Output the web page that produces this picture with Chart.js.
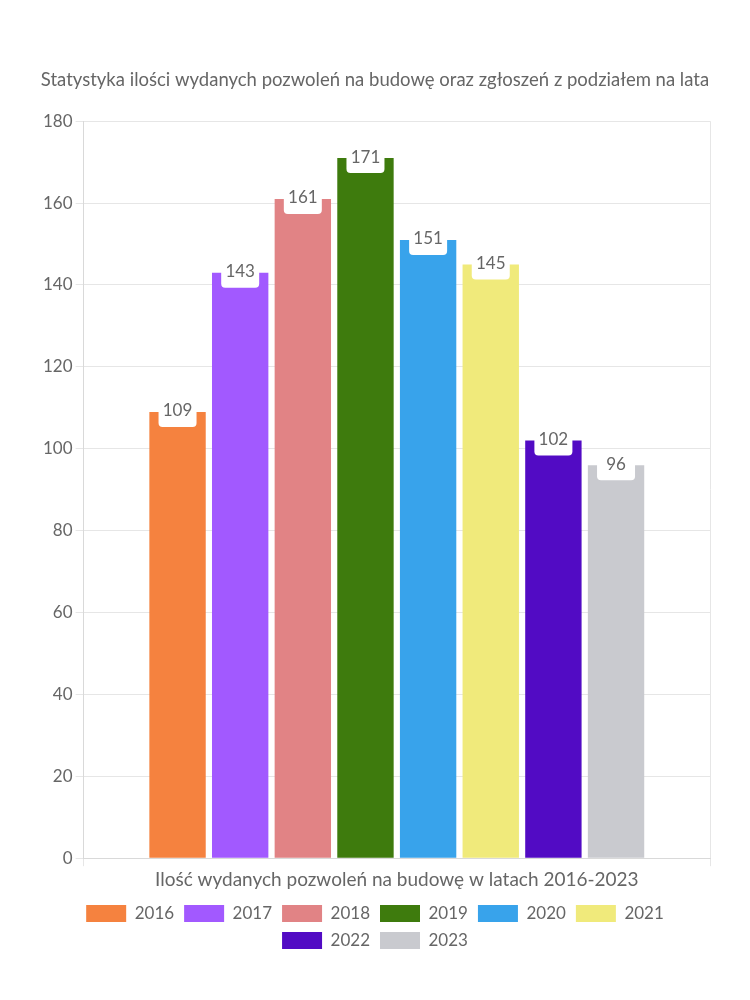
<!DOCTYPE html>
<html>
<head>
<meta charset="utf-8">
<script src="https://cdn.jsdelivr.net/npm/chart.js@4"></script>
<style>
    html, body { margin: 0; padding: 0; background: #fff; }
    #wrap { width: 750px; height: 1000px; }
</style>
</head>
<body>
<div id="wrap"><canvas id="pozwolenia"></canvas></div>
<script>
const kategorie = ['Ilość wydanych pozwoleń na budowę w latach 2016-2023'];
const lata = ['2016', '2017', '2018', '2019', '2020', '2021', '2022', '2023'];
const wartosci = [109, 143, 161, 171, 151, 145, 102, 96];
const kolory = ['#f5823f', '#a259ff', '#e18385', '#3e7b0d', '#38a3eb', '#f0ea7b', '#520bc4', '#c9cacf'];

const czcionka = "'Lato', 'Noto Sans', sans-serif";

// etykiety z wartoscia na bialym tle przy szczycie slupka
const etykiety = {
    id: 'etykiety',
    afterDatasetsDraw(chart) {
        const ctx = chart.ctx;
        ctx.save();
        chart.data.datasets.forEach((ds, i) => {
            const meta = chart.getDatasetMeta(i);
            if (meta.hidden) return;
            meta.data.forEach((bar, j) => {
                const w = 38, h = 30;
                ctx.fillStyle = '#ffffff';
                ctx.beginPath();
                ctx.roundRect(bar.x - w / 2, bar.y - h / 2, w, h, 4);
                ctx.fill();
                ctx.fillStyle = '#666666';
                ctx.font = '17px ' + czcionka;
                ctx.textAlign = 'center';
                ctx.textBaseline = 'middle';
                ctx.fillText(ds.data[j], bar.x, bar.y - 1);
            });
        });
        ctx.restore();
    }
};

const pozwolenia = document.getElementById('pozwolenia');

new Chart(pozwolenia, {
    type: 'bar',
    data: {
        labels: kategorie,
        datasets: lata.map((rok, i) => ({
            label: rok,
            data: [wartosci[i]],
            backgroundColor: kolory[i],
            borderColor: kolory[i],
            borderWidth: 0
        }))
    },
    options: {
        responsive: true,
        maintainAspectRatio: false,
        animation: false,
        layout: {
            padding: { top: 69, bottom: 41, left: 40, right: 40 }
        },
        scales: {
            x: {
                ticks: { display: false },
                grid: { color: '#e6e6e6' },
                border: { color: '#d9d9d9' },
                title: {
                    display: true,
                    text: kategorie[0],
                    color: '#666',
                    padding: { top: 2, bottom: 4 },
                    font: { family: czcionka, size: 19 }
                }
            },
            y: {
                beginAtZero: true,
                max: 180,
                ticks: {
                    stepSize: 20,
                    color: '#666',
                    font: { family: czcionka, size: 17 }
                },
                grid: { color: '#e6e6e6' },
                border: { color: '#d9d9d9' }
            }
        },
        plugins: {
            title: {
                display: true,
                text: 'Statystyka ilości wydanych pozwoleń na budowę oraz zgłoszeń z podziałem na lata',
                position: 'top',
                color: '#666',
                padding: { top: 0, bottom: 30 },
                font: { size: 18.5, family: czcionka, weight: 'normal' }
            },
            legend: {
                position: 'bottom',
                labels: {
                    color: '#666',
                    boxWidth: 40,
                    boxHeight: 17,
                    padding: 10,
                    font: { family: czcionka, size: 17 }
                }
            },
            tooltip: { enabled: false }
        }
    },
    plugins: [etykiety]
});
</script>
</body>
</html>
